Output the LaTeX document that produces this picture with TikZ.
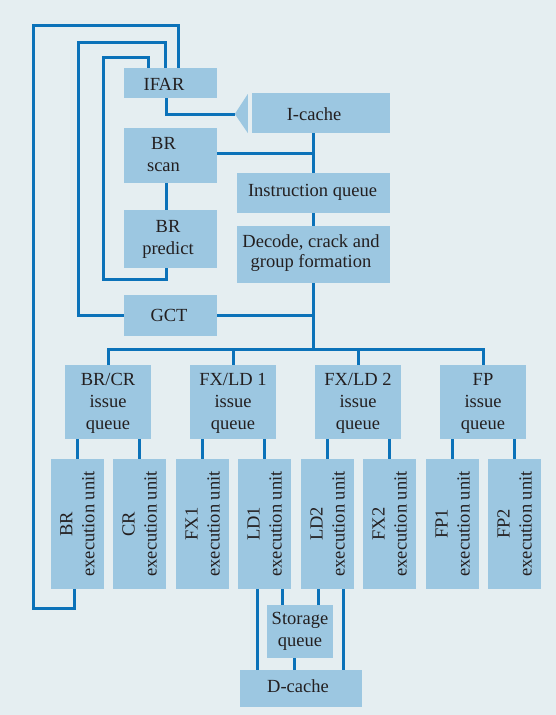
\documentclass[tikz,border=0pt]{standalone}
\usepackage{fontspec}
\setmainfont{Liberation Serif}
\usetikzlibrary{calc}
\definecolor{bg}{HTML}{E5EEF1}
\definecolor{boxc}{HTML}{9CC7E1}
\definecolor{linec}{HTML}{0B72B9}
\definecolor{txt}{HTML}{231F20}
% text block shifted right by #1 pt and down by #2 pt inside its box
\newcommand\shiftedtext[3]{\kern#1pt\kern#1pt\raisebox{-#2pt}[\height][\depth]{\begin{tabular}{@{}c@{}}#3\end{tabular}}}
\begin{document}
\begin{tikzpicture}[x=1pt,y=-1pt,
  box/.style={fill=boxc, inner sep=0pt, align=center, text=txt,
    font=\fontsize{18.5}{22}\selectfont, anchor=center},
  side/.style={box, minimum width=93},
  main/.style={box, minimum width=153},
  iq/.style={box, minimum width=86, minimum height=74},
  eu/.style={box, rotate=90, minimum width=130, minimum height=53},
  link/.style={draw=linec, line width=3pt},
]
\fill[bg] (0,0) rectangle (556,715);
\useasboundingbox (0,0) rectangle (556,715);

% upper nodes
\node[side, minimum height=30] (ifar) at (170.5,83) {\shiftedtext{-6.5}{3.3}{IFAR}};
\node[side, minimum height=55] (brscan) at (170.5,155.5) {\shiftedtext{-7}{1}{BR\\scan}};
\node[side, minimum height=58] (brpred) at (170.5,239) {\shiftedtext{-2.5}{0.3}{BR\\predict}};
\node[side, minimum height=41] (gct) at (170.5,315.5) {\shiftedtext{-1.5}{1.8}{GCT}};
\node[box, minimum width=138, minimum height=40] (icache) at (321,113) {\shiftedtext{-7}{2.6}{I-cache}};
\node[main, minimum height=40] (iqueue) at (313.5,193) {\shiftedtext{-1}{-0.7}{Instruction queue}};
\node[main, minimum height=57, font=\fontsize{18.5}{20.5}\selectfont] (dec) at (313.5,254.5) {\shiftedtext{-2.5}{-1.3}{Decode, crack and\\group formation}};

% issue queues
\node[iq] (q1) at (108,402) {\shiftedtext{0}{1.5}{BR/CR\\issue\\queue}};
\node[iq] (q2) at (233,402) {\shiftedtext{0}{1.5}{FX/LD 1\\issue\\queue}};
\node[iq] (q3) at (358,402) {\shiftedtext{0}{1.5}{FX/LD 2\\issue\\queue}};
\node[iq] (q4) at (483,402) {\shiftedtext{0}{1.5}{FP\\issue\\queue}};

% execution units
\node[eu] (e1) at (77.5,524) {BR\\execution unit};
\node[eu] (e2) at (139.5,524) {CR\\execution unit};
\node[eu] (e3) at (202.5,524) {FX1\\execution unit};
\node[eu] (e4) at (264.5,524) {LD1\\execution unit};
\node[eu] (e5) at (327.5,524) {LD2\\execution unit};
\node[eu] (e6) at (389.5,524) {FX2\\execution unit};
\node[eu] (e7) at (452.5,524) {FP1\\execution unit};
\node[eu] (e8) at (514.5,524) {FP2\\execution unit};

\node[box, minimum width=66, minimum height=53] (sq) at (300,631.5) {Storage\\queue};
\node[box, minimum width=122, minimum height=37] (dc) at (301,688.5) {\shiftedtext{-3}{-0.9}{D-cache}};

% arrow head in front of I-cache
\coordinate (tip) at ($(icache.west)+(-17,1)$);
\fill[boxc] (tip) -- ($(icache.west)+(-4,-19)$) -- ($(icache.west)+(-4,20)$) -- cycle;

% helper coordinates
\coordinate (xa) at (313,0);
\coordinate (xb) at (166,0);
\coordinate (bus) at (313,349);
\coordinate (xp) at (148,0);
\coordinate (xg) at (165,0);
\coordinate (xo) at (178,0);

% main column
\draw[link] (icache.south -| xa) -- (iqueue.north -| xa);
\draw[link] (iqueue.south -| xa) -- (dec.north -| xa);
\draw[link] (dec.south -| xa) -- (bus);
\draw[link] ($(brscan.east)+(0,-2.5)$) -- ($(brscan.east -| xa)+(0,-2.5)$);
\draw[link] (gct.east) -- (gct.east -| xa);

% bus to issue queues
\draw[link] (q1.north) -- (q1.north |- bus) -- (q4.north |- bus) -- (q4.north);
\draw[link] (q2.north) -- (q2.north |- bus);
\draw[link] (q3.north) -- (q3.north |- bus);

% issue queues to execution units
\draw[link] (e1.east) -- (e1.east |- q1.south);
\draw[link] (e2.east) -- (e2.east |- q1.south);
\draw[link] (e3.east) -- (e3.east |- q2.south);
\draw[link] (e4.east) -- (e4.east |- q2.south);
\draw[link] (e5.east) -- (e5.east |- q3.south);
\draw[link] (e6.east) -- (e6.east |- q3.south);
\draw[link] (e7.east) -- (e7.east |- q4.south);
\draw[link] (e8.east) -- (e8.east |- q4.south);

% load/store paths
\coordinate (l1a) at ($(e4.west)+(-7.5,0)$);
\coordinate (l1b) at ($(e4.west)+(17.5,0)$);
\coordinate (l2a) at ($(e5.west)+(-9.5,0)$);
\coordinate (l2b) at ($(e5.west)+(15.5,0)$);
\coordinate (sqo) at ($(sq.south)+(-6,0)$);
\draw[link] (l1a) -- (l1a |- dc.north);
\draw[link] (l1b) -- (l1b |- sq.north);
\draw[link] (l2a) -- (l2a |- sq.north);
\draw[link] (l2b) -- (l2b |- dc.north);
\draw[link] (sqo) -- (sqo |- dc.north);

% front end
\draw[link] (ifar.south -| xb) |- (tip);
\draw[link] (brscan.south -| xb) -- (brpred.north -| xb);

% feedback loops into IFAR
\draw[link] (brpred.south -| xb) -- (166,279) -- (103,279) -- (103,57) -- (148,57) -- (ifar.north -| xp);
\draw[link] (gct.west) -- (78,315.5) -- (78,42) -- (165,42) -- (ifar.north -| xg);
\coordinate (brx) at ($(e1.west)+(-3.5,0)$);
\draw[link] (brx) -- (74,608) -- (33,608) -- (33,25) -- (178,25) -- (ifar.north -| xo);
\end{tikzpicture}
\end{document}
